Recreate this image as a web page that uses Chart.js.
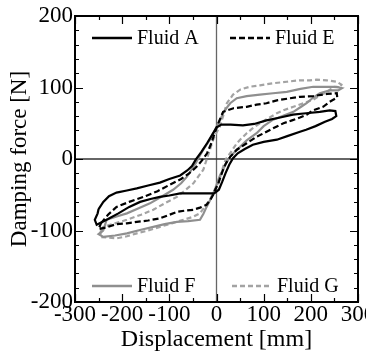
<!DOCTYPE html>
<html>
<head>
<meta charset="utf-8">
<script src="https://cdn.jsdelivr.net/npm/chart.js@4.4.1/dist/chart.umd.min.js"></script>
<style>
html, body { margin: 0; padding: 0; background: #fff; }
</style>
</head>
<body>
<canvas id="chart" width="366" height="360"></canvas>
<script>
// hysteresis loops: [displacement mm, damping force N]
var seriesNames = ['Fluid A', 'Fluid E', 'Fluid F', 'Fluid G'];

var fluidA = [
  [-250,-70],[-240,-60],[-228,-52],[-212,-47],[-190,-44],[-169,-41],[-145,-37],[-120,-33],
  [-100,-28],[-77,-23],[-62,-16],[-52,-10],[-44,-1],[-32,10],[-20,22],[-9,34],[0,44],[10,48],
  [30,48],[56,47],[80,49],[106,54],[135,58],[162,62],[190,64],[219,66],[240,68],[252,67],
  [254,60],[245,56],[230,52],[210,46],[190,41],[177,38],[150,32],[128,27],[100,24],[77,20],
  [60,14],[45,8],[35,1],[27,-8],[19,-20],[12,-32],[5,-43],[-5,-48],[-21,-48],[-50,-48],
  [-77,-48],[-100,-51],[-120,-53],[-140,-56],[-162,-60],[-185,-67],[-208,-76],[-230,-84],
  [-254,-92],[-258,-85],[-252,-76],[-250,-70]
];

var fluidE = [
  [-245,-90],[-230,-78],[-212,-67],[-185,-60],[-155,-53],[-125,-45],[-99,-36],[-75,-28],
  [-58,-20],[-44,-12],[-32,-3],[-20,8],[-11,22],[-3,38],[5,52],[14,66],[36,71],[64,73],
  [85,76],[106,78],[128,82],[156,85],[177,87],[205,88],[234,91],[255,92],[256,86],[240,80],
  [226,73],[205,68],[191,62],[177,58],[160,54],[142,50],[120,43],[100,36],[85,31],[64,22],
  [43,13],[29,3],[20,-6],[14,-15],[8,-26],[4,-34],[-2,-42],[-7,-50],[-14,-58],[-21,-64],
  [-35,-68],[-49,-71],[-65,-72],[-84,-74],[-100,-78],[-120,-83],[-145,-86],[-169,-88],
  [-190,-90],[-212,-91],[-235,-96],[-250,-98],[-245,-90]
];

var fluidF = [
  [-240,-100],[-233,-85],[-210,-80],[-190,-76],[-165,-69],[-141,-62],[-115,-52],[-92,-43],
  [-75,-34],[-63,-25],[-52,-14],[-44,-6],[-37,3],[-28,13],[-14,27],[-5,38],[0,45],[8,55],
  [14,64],[22,72],[29,78],[43,85],[64,88],[92,90],[120,92],[149,94],[178,98],[205,101],
  [230,101],[255,101],[266,99],[258,96],[240,96],[219,92],[205,86],[191,78],[177,72],
  [163,66],[140,60],[120,55],[100,46],[85,36],[64,26],[50,17],[36,8],[29,3],[20,-6],
  [14,-15],[8,-22],[4,-29],[-2,-40],[-7,-48],[-14,-58],[-21,-67],[-28,-77],[-35,-85],
  [-60,-87],[-84,-88],[-110,-91],[-134,-95],[-160,-99],[-190,-104],[-215,-107],[-240,-109],
  [-250,-105],[-240,-100]
];

var fluidG = [
  [-245,-100],[-240,-95],[-215,-90],[-190,-85],[-160,-78],[-134,-71],[-110,-62],[-84,-53],
  [-65,-43],[-49,-34],[-38,-24],[-28,-15],[-21,-1],[-14,13],[-7,27],[0,37],[7,45],[14,60],
  [22,78],[35,90],[50,97],[70,101],[92,103],[120,106],[149,108],[175,110],[198,110],
  [212,111],[234,110],[255,108],[265,104],[262,100],[248,101],[235,94],[220,89],[205,83],
  [185,78],[163,73],[145,69],[128,64],[110,57],[92,50],[75,42],[64,36],[50,27],[43,22],
  [35,14],[29,8],[20,0],[14,-11],[8,-25],[0,-39],[-7,-48],[-14,-57],[-25,-67],[-35,-76],
  [-50,-81],[-70,-85],[-95,-90],[-120,-95],[-145,-100],[-169,-104],[-190,-108],[-212,-111],
  [-230,-110],[-247,-109],[-245,-100]
];

var xLabels = [-300, -200, -100, 0, 100, 200, 300];
var yLabels = [-200, -100, 0, 100, 200];

var serif = "'Liberation Serif', 'Times New Roman', serif";

function pts(arr) {
  return arr.map(function(p) { return {x: p[0], y: p[1]}; });
}

function loop(label, data, color, dash) {
  return {
    label: label,
    data: pts(data),
    showLine: true,
    borderColor: color,
    backgroundColor: color,
    borderWidth: 2.2,
    borderDash: dash,
    pointRadius: 0,
    tension: 0,
    fill: false
  };
}

// frame, inward ticks, zero lines and the corner legend
var framePlugin = {
  id: 'frame',
  beforeDatasetsDraw: function(chart) {
    var ctx = chart.ctx, a = chart.chartArea;
    var x0 = chart.scales.x.getPixelForValue(0);
    var y0 = chart.scales.y.getPixelForValue(0);
    ctx.save();
    ctx.lineWidth = 1.3;
    ctx.strokeStyle = '#666';
    ctx.beginPath(); ctx.moveTo(x0, a.top); ctx.lineTo(x0, a.bottom); ctx.stroke();
    ctx.strokeStyle = '#333';
    ctx.beginPath(); ctx.moveTo(a.left, y0); ctx.lineTo(a.right, y0); ctx.stroke();
    ctx.restore();
  },
  afterDraw: function(chart) {
    var ctx = chart.ctx, a = chart.chartArea;
    var xs = chart.scales.x, ys = chart.scales.y;
    ctx.save();
    ctx.strokeStyle = '#000';
    ctx.lineWidth = 1.2;
    ctx.beginPath();
    xs.ticks.forEach(function(t) {
      var px = Math.round(xs.getPixelForValue(t.value)) + 0.5;
      var len = t.value % 100 === 0 ? 8 : 4;
      ctx.moveTo(px, a.bottom); ctx.lineTo(px, a.bottom - len);
      ctx.moveTo(px, a.top); ctx.lineTo(px, a.top + len);
    });
    ys.ticks.forEach(function(t) {
      var py = Math.round(ys.getPixelForValue(t.value)) + 0.5;
      var len = t.value % 100 === 0 ? 8 : 4;
      ctx.moveTo(a.left, py); ctx.lineTo(a.left + len, py);
      ctx.moveTo(a.right, py); ctx.lineTo(a.right - len, py);
    });
    ctx.stroke();
    ctx.lineWidth = 2;
    ctx.strokeRect(a.left, a.top, a.right - a.left, a.bottom - a.top);

    var slots = [
      {x: a.left + 17, y: a.top + 22},
      {x: a.left + 155, y: a.top + 22},
      {x: a.left + 17, y: a.bottom - 16},
      {x: a.left + 157, y: a.bottom - 16}
    ];
    ctx.font = '20px ' + serif;
    ctx.textBaseline = 'middle';
    ctx.textAlign = 'left';
    chart.data.datasets.forEach(function(ds, i) {
      var s = slots[i];
      ctx.strokeStyle = ds.borderColor;
      ctx.lineWidth = 2.4;
      ctx.setLineDash(ds.borderDash || []);
      ctx.beginPath(); ctx.moveTo(s.x, s.y); ctx.lineTo(s.x + 40, s.y); ctx.stroke();
      ctx.setLineDash([]);
      ctx.fillStyle = '#000';
      ctx.fillText(ds.label, s.x + 45, s.y + 1);
    });
    ctx.restore();
  }
};

new Chart(document.getElementById('chart'), {
  type: 'scatter',
  data: {
    datasets: [
      loop(seriesNames[0], fluidA, '#000000', []),
      loop(seriesNames[1], fluidE, '#000000', [6, 3]),
      loop(seriesNames[2], fluidF, '#8f8f8f', []),
      loop(seriesNames[3], fluidG, '#a3a3a3', [5, 3])
    ]
  },
  options: {
    responsive: false,
    animation: false,
    layout: { padding: { top: 16, right: 8, left: 0, bottom: 0 } },
    plugins: { legend: { display: false }, tooltip: { enabled: false } },
    scales: {
      x: {
        type: 'linear',
        min: -300,
        max: 300,
        grid: { display: false, drawTicks: false },
        border: { display: false },
        ticks: {
          stepSize: 50,
          autoSkip: false,
          maxRotation: 0,
          padding: 1,
          color: '#000',
          font: { family: serif, size: 23, lineHeight: 1 },
          callback: function(v) { return xLabels.indexOf(v) >= 0 ? String(v) : ''; }
        },
        title: {
          display: true,
          text: 'Displacement [mm]',
          color: '#000',
          font: { family: serif, size: 24, lineHeight: 1.2 },
          padding: { top: 0, bottom: 6 }
        },
        afterFit: function(s) { s.height = 58; s.paddingLeft = 0; s.paddingRight = 0; }
      },
      y: {
        type: 'linear',
        min: -200,
        max: 200,
        grid: { display: false, drawTicks: false },
        border: { display: false },
        ticks: {
          stepSize: 20,
          autoSkip: false,
          padding: 2,
          color: '#000',
          font: { family: serif, size: 23, lineHeight: 1 },
          callback: function(v) { return yLabels.indexOf(v) >= 0 ? String(v) : ''; }
        },
        title: {
          display: true,
          text: 'Damping force [N]',
          color: '#000',
          font: { family: serif, size: 23, lineHeight: 1.2 },
          padding: { top: 6, bottom: 0 }
        },
        afterFit: function(s) { s.width = 75; }
      }
    }
  },
  plugins: [framePlugin]
});
</script>
</body>
</html>
